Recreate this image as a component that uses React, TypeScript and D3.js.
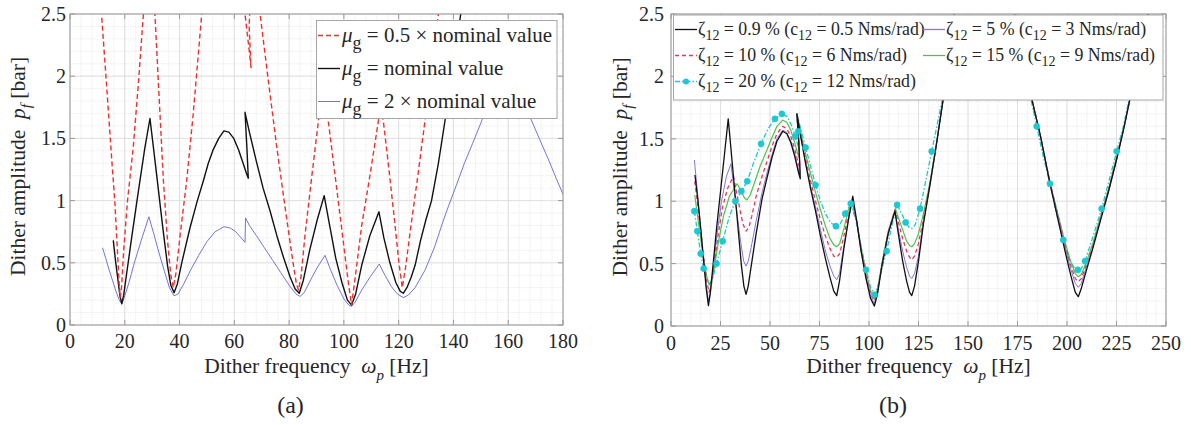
import React from "react";
import * as d3 from "d3";

type P = [number, number];

// ---------- axis ticks ----------
const xTicksA = [0, 20, 40, 60, 80, 100, 120, 140, 160, 180];
const xTicksB = [0, 25, 50, 75, 100, 125, 150, 175, 200, 225, 250];
const yTicks = [0, 0.5, 1, 1.5, 2, 2.5];
const yTickLabels = ["0", "0.5", "1", "1.5", "2", "2.5"];

// ---------- panel (a) ----------
const muHalf: P[] = [[11.6,2.47],[12.8,2.1],[14.2,1.66],[15.4,1.28],[16.4,0.98],[17.3,0.6],[17.9,0.35],[18.3,0.22],[18.8,0.3],[19.6,0.6],[21,1.0],[23.1,1.43],[25,1.95],[26.8,2.5],[28,2.9],[29.5,3.1],[31,2.5],[32.5,1.85],[34.1,1.16],[35.6,0.68],[36.8,0.4],[37.7,0.3],[38.7,0.42],[40.2,0.72],[42.6,1.16],[45,1.7],[48.1,2.5],[50,3.0],[56,3.4],[62,3.0],[63.9,2.5],[65.2,2.25],[66.1,2.07],[65.4,2.4],[66,2.7],[68,2.9],[69.4,2.5],[72.5,1.95],[75.5,1.43],[78.5,0.95],[81.3,0.52],[82.6,0.34],[83.4,0.28],[84.3,0.38],[85.8,0.72],[88.2,1.18],[90.7,1.64],[92.4,1.96],[94.3,1.64],[96.8,1.2],[99.5,0.72],[101.5,0.36],[102.8,0.16],[104,0.36],[106.5,0.8],[109.5,1.2],[112.6,1.64],[113.4,1.78],[114.4,1.64],[116.2,1.3],[118.2,0.9],[120.1,0.5],[121.3,0.3],[122.5,0.46],[124.5,0.8],[127,1.2],[129.6,1.64],[132,2.05],[134.5,2.5],[136,2.8]];
const muNominal: P[] = [[15.8,0.68],[16.6,0.52],[17.4,0.38],[18.2,0.24],[18.9,0.17],[19.6,0.24],[20.6,0.4],[22.5,0.7],[25,1.08],[27.3,1.42],[29.2,1.66],[30.5,1.42],[32.2,1.1],[34,0.76],[35.6,0.48],[36.8,0.32],[38,0.26],[39.2,0.33],[40.8,0.5],[43.8,0.78],[46.5,1.0],[48.7,1.16],[50.5,1.3],[52.3,1.41],[54.3,1.5],[56.2,1.56],[58,1.55],[59.8,1.5],[61.5,1.41],[63.2,1.3],[64.4,1.22],[65.1,1.18],[64.6,1.42],[63.9,1.71],[65.5,1.55],[68,1.32],[70.5,1.1],[73,0.92],[75.5,0.72],[78,0.54],[80.3,0.39],[82.2,0.29],[83.7,0.255],[85.2,0.36],[87.5,0.6],[90.2,0.84],[92.8,1.04],[94.8,0.8],[97,0.54],[99.3,0.34],[101.3,0.2],[102.8,0.16],[104.3,0.25],[106.5,0.48],[109.5,0.72],[112.8,0.91],[114.6,0.7],[116.8,0.5],[119,0.34],[120.6,0.27],[121.7,0.255],[123,0.3],[124.5,0.38],[126,0.48],[128,0.68],[130,0.85],[132,1.0],[134.5,1.3],[136.9,1.64],[139.5,2.0],[142,2.4],[144,2.7]];
const muDouble: P[] = [[11.9,0.62],[13,0.54],[14.2,0.45],[15.5,0.36],[16.8,0.27],[18,0.2],[18.9,0.17],[19.8,0.22],[21.5,0.34],[23.5,0.5],[26,0.68],[28.8,0.87],[30.5,0.74],[32.5,0.58],[34.5,0.43],[36.3,0.3],[38,0.235],[39.5,0.25],[41.5,0.33],[44,0.44],[47,0.56],[50,0.67],[53,0.75],[56.2,0.79],[58.5,0.78],[60.5,0.75],[62.5,0.7],[63.9,0.665],[64.1,0.86],[65.5,0.8],[68,0.72],[71,0.62],[74,0.52],[77,0.42],[80,0.32],[82.5,0.25],[84,0.23],[85.5,0.26],[88,0.37],[90.5,0.47],[93.1,0.56],[95.2,0.44],[97.5,0.32],[100,0.21],[101.8,0.16],[102.8,0.15],[104,0.18],[106.5,0.28],[109.7,0.39],[112.9,0.49],[115,0.4],[117.3,0.31],[119.5,0.25],[121.7,0.22],[123.5,0.24],[126,0.3],[129.6,0.44],[133,0.62],[136,0.82],[138.1,0.95],[141,1.12],[144,1.3],[147,1.46],[150.3,1.64],[153.5,1.84],[156.5,2.02],[159.5,2.15],[162,2.02],[165,1.83],[168.6,1.64],[171.5,1.49],[174.5,1.34],[177.5,1.18],[180,1.05]];

// ---------- panel (b) ----------
const zeta09: P[] = [[12.1,1.21],[13.5,1.02],[15,0.78],[16.5,0.52],[17.8,0.3],[18.9,0.163],[19.8,0.26],[21,0.45],[23,0.78],[25.5,1.15],[27.3,1.42],[28.9,1.66],[30.4,1.4],[32.2,1.08],[34,0.76],[35.6,0.48],[36.8,0.32],[37.9,0.254],[39,0.32],[40.5,0.48],[43,0.74],[46,1.02],[48.7,1.2],[51,1.35],[53.5,1.48],[56.4,1.56],[58.5,1.54],[60.5,1.47],[62.5,1.36],[64.4,1.23],[65.3,1.18],[64.7,1.42],[63.6,1.7],[65.5,1.52],[68,1.3],[70.5,1.1],[73,0.92],[75.5,0.72],[78,0.54],[80.3,0.39],[82.2,0.28],[83.7,0.243],[85.1,0.36],[87.3,0.62],[89.6,0.85],[91.8,1.04],[93.8,0.84],[96,0.6],[98.5,0.38],[100.8,0.22],[102.7,0.16],[104.2,0.25],[106.5,0.48],[109.7,0.74],[113.1,0.92],[115,0.72],[117,0.52],[119,0.36],[120.5,0.27],[121.6,0.243],[123,0.32],[125,0.52],[127.5,0.82],[130.8,1.13],[134,1.45],[137.5,1.82],[140.5,2.15],[143.5,2.55],[145,2.8],[170,2.8],[173.5,2.5],[178,2.1],[182.2,1.82],[186.5,1.53],[191.4,1.14],[195.5,0.85],[199,0.6],[202,0.4],[204.2,0.27],[205.7,0.235],[207.2,0.3],[209.5,0.43],[213,0.62],[217,0.85],[221,1.08],[225,1.33],[228.5,1.57],[231.8,1.82],[236,2.12],[241,2.5],[244,2.7]];
const zeta5: P[] = [[11.8,1.33],[13.2,1.1],[14.8,0.82],[16.4,0.54],[17.8,0.32],[19,0.2],[20,0.27],[21.3,0.45],[23.3,0.74],[25.5,1.0],[28,1.2],[30.3,1.3],[31.8,1.1],[33.5,0.88],[35.2,0.67],[36.7,0.52],[37.9,0.48],[39,0.52],[40.5,0.63],[43,0.84],[46,1.07],[48.7,1.24],[51,1.37],[53.5,1.5],[56.4,1.57],[58.5,1.55],[60.5,1.48],[62.5,1.38],[64.4,1.25],[65.2,1.22],[64.7,1.45],[63.6,1.7],[65.5,1.52],[68,1.31],[70.5,1.12],[73,0.95],[75.5,0.77],[78,0.6],[80.3,0.48],[82.2,0.4],[83.7,0.37],[85.1,0.42],[87.3,0.64],[89.6,0.85],[91.5,1.0],[93.8,0.83],[96,0.6],[98.5,0.39],[100.8,0.24],[102.7,0.18],[104.2,0.26],[106.5,0.48],[109.7,0.74],[113.1,0.92],[115,0.76],[117,0.6],[119,0.47],[120.5,0.4],[121.6,0.38],[123,0.42],[125,0.56],[127.5,0.83],[130.8,1.13],[134,1.45],[137.5,1.82],[140.5,2.15],[143.5,2.55],[145,2.8],[170,2.8],[173.5,2.5],[178,2.1],[182.2,1.82],[186.5,1.53],[191.4,1.14],[195.5,0.87],[199,0.63],[202,0.45],[204.2,0.34],[205.7,0.31],[207.2,0.34],[209.5,0.46],[213,0.63],[217,0.86],[221,1.08],[225,1.33],[228.5,1.57],[231.8,1.82],[236,2.12],[241,2.5],[244,2.7]];
const zeta10: P[] = [[12,1.16],[13.4,0.98],[15,0.76],[16.6,0.54],[18,0.36],[19.2,0.27],[20.3,0.32],[21.7,0.48],[23.7,0.72],[26,0.95],[28.5,1.1],[31.5,1.2],[33,1.08],[34.7,0.94],[36.3,0.82],[37.9,0.76],[39.3,0.79],[40.8,0.88],[43,1.04],[46,1.2],[48.7,1.33],[51,1.44],[53.5,1.54],[56.4,1.6],[58.5,1.58],[60.5,1.52],[62.5,1.42],[64.3,1.3],[65,1.27],[64.6,1.48],[63.6,1.7],[65.5,1.53],[68,1.34],[70.5,1.16],[73,1.0],[75.5,0.85],[78,0.72],[80.3,0.62],[82.2,0.56],[83.7,0.55],[85.2,0.58],[87.3,0.72],[89.6,0.9],[91.5,1.0],[93.8,0.84],[96,0.62],[98.5,0.41],[100.8,0.26],[102.7,0.2],[104.2,0.27],[106.5,0.49],[109.7,0.75],[113.1,0.93],[115,0.82],[117,0.7],[119,0.6],[120.5,0.55],[121.6,0.53],[123,0.56],[125,0.66],[127.5,0.86],[130.8,1.14],[134,1.45],[137.5,1.82],[140.5,2.15],[143.5,2.55],[145,2.8],[170,2.8],[173.5,2.5],[178,2.1],[182.2,1.82],[186.5,1.53],[191.4,1.15],[195.5,0.88],[199,0.65],[202,0.48],[204.2,0.38],[205.7,0.355],[207.2,0.38],[209.5,0.48],[213,0.64],[217,0.87],[221,1.09],[225,1.34],[228.5,1.57],[231.8,1.82],[236,2.12],[241,2.5],[244,2.7]];
const zeta15: P[] = [[12,1.05],[13.4,0.88],[15,0.7],[16.6,0.52],[18,0.4],[19.3,0.33],[20.5,0.36],[22,0.48],[24,0.68],[26.5,0.88],[29.5,1.04],[33.4,1.14],[35.5,1.08],[37,1.03],[38.4,1.01],[40,1.05],[42,1.14],[45,1.28],[48.7,1.42],[51,1.51],[53.5,1.6],[56.4,1.65],[58.5,1.63],[60.5,1.57],[62.5,1.47],[64.2,1.37],[64.8,1.35],[64.4,1.52],[63.6,1.7],[65.5,1.55],[68,1.38],[70.5,1.22],[73,1.07],[75.5,0.93],[78,0.8],[80.3,0.7],[82.2,0.65],[83.7,0.635],[85.2,0.66],[87.3,0.78],[89.6,0.93],[91.3,1.0],[93.8,0.84],[96,0.63],[98.5,0.43],[100.8,0.28],[102.8,0.22],[104.3,0.29],[106.5,0.5],[109.7,0.76],[113.3,0.94],[115,0.86],[117,0.77],[119,0.68],[120.5,0.645],[121.6,0.635],[123,0.66],[125,0.74],[127.5,0.9],[130.8,1.15],[134,1.46],[137.5,1.82],[140.5,2.15],[143.5,2.55],[145,2.8],[170,2.8],[173.5,2.5],[178,2.1],[182.2,1.82],[186.5,1.53],[191.4,1.15],[195.5,0.89],[199,0.67],[202,0.51],[204.2,0.42],[205.7,0.395],[207.2,0.41],[209.5,0.5],[213,0.66],[217,0.88],[221,1.1],[225,1.35],[228.5,1.58],[231.8,1.82],[236,2.12],[241,2.5],[244,2.7]];
const zeta20: P[] = [[11.8,0.92],[13.3,0.76],[15,0.58],[16.5,0.46],[18,0.38],[19.5,0.34],[21,0.38],[23,0.5],[26.1,0.68],[29.5,0.88],[32.5,1.0],[35.5,1.08],[38.5,1.16],[42,1.32],[45.5,1.46],[49,1.58],[52.5,1.66],[56,1.7],[58.5,1.68],[60.8,1.61],[62.8,1.52],[64.2,1.44],[64.6,1.42],[64.3,1.56],[63.6,1.7],[65.5,1.58],[68,1.43],[70.5,1.28],[73,1.13],[75.5,1.0],[78,0.9],[80.5,0.83],[83.3,0.8],[85.5,0.82],[88,0.9],[90.8,0.98],[93.5,0.84],[96,0.64],[98.5,0.45],[100.8,0.31],[102.8,0.25],[104.5,0.32],[106.5,0.46],[108.9,0.6],[111.5,0.8],[114.2,0.97],[116.5,0.9],[118.5,0.83],[120.3,0.79],[121.6,0.78],[123.3,0.81],[125.8,0.94],[128.5,1.15],[131.7,1.4],[134.5,1.62],[137.5,1.85],[140.5,2.15],[143.5,2.55],[145,2.8],[170,2.8],[173.5,2.5],[178,2.1],[184.7,1.6],[188,1.36],[191.4,1.14],[194.7,0.9],[198.1,0.69],[201,0.54],[203.5,0.47],[205.5,0.45],[207.3,0.46],[209.1,0.52],[213,0.71],[217.5,0.94],[221,1.15],[225.1,1.4],[228.5,1.6],[231.8,1.85],[236,2.12],[241,2.5],[244,2.7]];
const zeta20Markers: P[] = [[11.8,0.92],[13.3,0.76],[15,0.58],[16.5,0.46],[23,0.5],[26.1,0.68],[32.5,1.0],[35.5,1.08],[38.5,1.16],[45.5,1.46],[52.5,1.66],[56,1.7],[62.8,1.52],[64.3,1.56],[68,1.43],[73,1.13],[83.3,0.8],[88,0.9],[90.8,0.98],[98.5,0.45],[102.8,0.25],[108.9,0.6],[114.2,0.97],[118.5,0.83],[125.8,0.94],[131.7,1.4],[184.7,1.6],[191.4,1.14],[198.1,0.69],[205.5,0.45],[209.1,0.52],[217.5,0.94],[225.1,1.4]];

const FONT = "'Liberation Serif', 'Times New Roman', serif";
const TXT = "#262626";

type Series = { data: P[]; color: string; width: number; dash?: string; opacity?: number };

function Panel(props: {
  id: string; x0: number; x1: number; y0: number; y1: number; xMax: number;
  xTicks: number[]; xMinor: number; yLabelX: number; yTickRight: number; xTickBase: number;
  series: Series[]; markers?: { data: P[]; color: string };
}) {
  const { id, x0, x1, y0, y1, xMax, xTicks, xMinor, yLabelX, yTickRight, xTickBase, series, markers } = props;
  const x = d3.scaleLinear().domain([0, xMax]).range([x0, x1]);
  const y = d3.scaleLinear().domain([0, 2.5]).range([y1, y0]);
  const line = d3.line<P>().x((d) => x(d[0])).y((d) => y(d[1]));
  const xm = d3.range(0, xMax + 1e-9, xMinor);
  const ym = d3.range(0, 2.5 + 1e-9, 0.1);
  return (
    <g>
      <rect x={x0} y={y0} width={x1 - x0} height={y1 - y0} fill="#fff" />
      {ym.map((v, i) => (
        <line key={"ym" + i} x1={x0} x2={x1} y1={y(v)} y2={y(v)} stroke="#e8e8e8" strokeWidth={0.8} strokeDasharray="1.5,1" />
      ))}
      {xm.map((v, i) => (
        <line key={"xm" + i} x1={x(v)} x2={x(v)} y1={y0} y2={y1} stroke="#e8e8e8" strokeWidth={0.8} strokeDasharray="1.5,1" />
      ))}
      {yTicks.map((v, i) => (
        <line key={"yg" + i} x1={x0} x2={x1} y1={y(v)} y2={y(v)} stroke="#dadada" strokeWidth={0.8} />
      ))}
      {xTicks.map((v, i) => (
        <line key={"xg" + i} x1={x(v)} x2={x(v)} y1={y0} y2={y1} stroke="#dadada" strokeWidth={0.8} />
      ))}
      <clipPath id={id}>
        <rect x={x0} y={y0} width={x1 - x0} height={y1 - y0} />
      </clipPath>
      <g clipPath={`url(#${id})`}>
        {series.map((s, i) => (
          <path key={i} d={line(s.data) || ""} fill="none" stroke={s.color} strokeWidth={s.width}
            strokeDasharray={s.dash} strokeLinejoin="round" opacity={s.opacity ?? 1} />
        ))}
        {markers && markers.data.map((d, i) => (
          <circle key={"m" + i} cx={x(d[0])} cy={y(d[1])} r={3.1} fill={markers.color} stroke={markers.color} strokeWidth={0.5} />
        ))}
      </g>
      <rect x={x0} y={y0} width={x1 - x0} height={y1 - y0} fill="none" stroke="#9a9a9a" strokeWidth={1} />
      {xTicks.map((v, i) => (
        <g key={"xt" + i}>
          <line x1={x(v)} x2={x(v)} y1={y1} y2={y1 - 5} stroke="#9a9a9a" />
          <line x1={x(v)} x2={x(v)} y1={y0} y2={y0 + 5} stroke="#9a9a9a" />
          <text x={x(v)} y={xTickBase} textAnchor="middle" fontSize={20} fill={TXT} fontFamily={FONT}>{v}</text>
        </g>
      ))}
      {yTicks.map((v, i) => (
        <g key={"yt" + i}>
          <line x1={x0} x2={x0 + 5} y1={y(v)} y2={y(v)} stroke="#9a9a9a" />
          <line x1={x1} x2={x1 - 5} y1={y(v)} y2={y(v)} stroke="#9a9a9a" />
          <text x={yTickRight} y={y(v) + 7} textAnchor="end" fontSize={20} fill={TXT} fontFamily={FONT}>{yTickLabels[i]}</text>
        </g>
      ))}
      <text x={(x0 + x1) / 2} y={373} textAnchor="middle" fontSize={21.5} fill={TXT} fontFamily={FONT}>
        {"Dither frequency\u00a0\u00a0"}
        <tspan fontStyle="italic">ω</tspan>
        <tspan fontStyle="italic" fontSize={15} dy={7}>p</tspan>
        <tspan dy={-7}>{"\u00a0[Hz]"}</tspan>
      </text>
      <text transform={`translate(${yLabelX},${(y0 + y1) / 2 - 3}) rotate(-90)`} textAnchor="middle" fontSize={21.5} fill={TXT} fontFamily={FONT}>
        {"Dither amplitude\u00a0\u00a0"}
        <tspan fontStyle="italic">p</tspan>
        <tspan fontStyle="italic" fontSize={15} dy={6}>f</tspan>
        <tspan dy={-6}>{"\u00a0[bar]"}</tspan>
      </text>
    </g>
  );
}

const legendA = [
  { label: "\u00a0= 0.5 × nominal value", color: "#ee3030", dash: "5,3", width: 1.4 },
  { label: "\u00a0= nominal value", color: "#111", dash: undefined, width: 1.4 },
  { label: "\u00a0= 2 × nominal value", color: "#6464d8", dash: undefined, width: 0.9 },
];

const legendB = [
  { zeta: "0.9", c: "0.5", color: "#111", dash: undefined as string | undefined, marker: false, col: 0, row: 0 },
  { zeta: "5", c: "3", color: "#8a72d8", dash: undefined, marker: false, col: 1, row: 0 },
  { zeta: "10", c: "6", color: "#e8365a", dash: "4,3", marker: false, col: 0, row: 1 },
  { zeta: "15", c: "9", color: "#4cc44c", dash: undefined, marker: false, col: 1, row: 1 },
  { zeta: "20", c: "12", color: "#1cc8d2", dash: "5,2,1.5,2", marker: true, col: 0, row: 2 },
];

export default function App() {
  const seriesA: Series[] = [
    { data: muDouble, color: "#6464d8", width: 0.9 },
    { data: muNominal, color: "#111", width: 1.4 },
    { data: muHalf, color: "#ee3030", width: 1.4, dash: "5,3" },
  ];
  const seriesB: Series[] = [
    { data: zeta20, color: "#1cc8d2", width: 1.3, dash: "5,2,1.5,2" },
    { data: zeta15, color: "#4cc44c", width: 1.2 },
    { data: zeta10, color: "#e8365a", width: 1.3, dash: "4,3" },
    { data: zeta5, color: "#8a72d8", width: 1.0 },
    { data: zeta09, color: "#111", width: 1.3 },
  ];
  return (
    <div style={{ position: "absolute", left: 0, top: 0 }}>
      <svg width={1191} height={425} style={{ display: "block", background: "#fff" }} fontFamily={FONT}>
        <Panel id="clipA" x0={70} x1={563} y0={14} y1={325} xMax={180} xTicks={xTicksA} xMinor={4}
          yLabelX={25} yTickRight={66} xTickBase={348} series={seriesA} />
        <Panel id="clipB" x0={671} x1={1166} y0={14} y1={326} xMax={250} xTicks={xTicksB} xMinor={5}
          yLabelX={627} yTickRight={664} xTickBase={349.5} series={seriesB}
          markers={{ data: zeta20Markers, color: "#1cc8d2" }} />

        {/* legend (a) */}
        <g>
          <rect x={316.5} y={20.5} width={240.5} height={98} fill="#fff" stroke="#a6a6a6" strokeWidth={1} />
          {legendA.map((e, i) => {
            const yb = 41.5 + 33 * i;
            return (
              <g key={i}>
                <line x1={318} x2={340} y1={yb - 6} y2={yb - 6} stroke={e.color} strokeWidth={e.width} strokeDasharray={e.dash} />
                <text x={342} y={yb} fontSize={21} fill={TXT} fontFamily={FONT}>
                  <tspan fontStyle="italic">μ</tspan>
                  <tspan fontSize={18} dy={7}>g</tspan>
                  <tspan dy={-7}>{e.label}</tspan>
                </text>
              </g>
            );
          })}
        </g>

        {/* legend (b) */}
        <g>
          <rect x={673.5} y={15} width={489.5} height={85} fill="#fff" stroke="#a6a6a6" strokeWidth={1} />
          {legendB.map((e, i) => {
            const yb = 34.5 + 26 * e.row;
            const lx = e.col === 0 ? 675 : 923;
            return (
              <g key={i}>
                <line x1={lx} x2={lx + 22} y1={yb - 5} y2={yb - 5} stroke={e.color} strokeWidth={1.3} strokeDasharray={e.dash} />
                {e.marker && <circle cx={lx + 11} cy={yb - 5} r={3} fill={e.color} />}
                <text x={lx + 23} y={yb} fontSize={17.8} fill={TXT} fontFamily={FONT}>
                  {"ζ"}
                  <tspan fontSize={14} dy={5}>12</tspan>
                  <tspan dy={-5}>{`\u00a0= ${e.zeta} % (c`}</tspan>
                  <tspan fontSize={14} dy={5}>12</tspan>
                  <tspan dy={-5}>{`\u00a0= ${e.c} Nms/rad)`}</tspan>
                </text>
              </g>
            );
          })}
        </g>

        <text x={290.5} y={413} textAnchor="middle" fontSize={24} fill={TXT} fontFamily={FONT}>(a)</text>
        <text x={893} y={413} textAnchor="middle" fontSize={24} fill={TXT} fontFamily={FONT}>(b)</text>
      </svg>
    </div>
  );
}
